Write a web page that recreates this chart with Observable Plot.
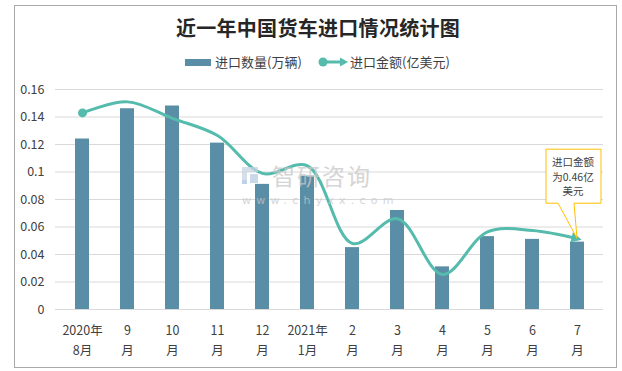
<!DOCTYPE html>
<html>
<head>
<meta charset="utf-8">
<script src="https://cdn.jsdelivr.net/npm/d3@7"></script>
<script src="https://cdn.jsdelivr.net/npm/@observablehq/plot@0.6"></script>
<style>
  html, body { margin: 0; padding: 0; background: #fff; }
  body { font-family: "Noto Sans CJK SC", "Noto Sans", sans-serif; }
  #wrap { position: relative; width: 622px; height: 371px; overflow: hidden; background: #fff; }
  #frame { position: absolute; left: 14px; top: 5px; width: 603px; height: 363px; border: 1px solid #a9a9a9; box-sizing: border-box; }
  #title { position: absolute; left: 0; width: 636px; top: 13px; text-align: center; font-size: 20px; font-weight: bold; color: #262626; letter-spacing: 0.3px; }
  .leg { position: absolute; top: 53px; font-size: 13px; color: #404040; line-height: 18px; }
  #chart { position: absolute; left: 0; top: 0; }
  #wm { position: absolute; left: 242px; top: 160px; opacity: 0.75; pointer-events: none; }
</style>
</head>
<body>
<div id="wrap">
  <div id="chart"></div>
  <div id="frame"></div>
  <div id="title">近一年中国货车进口情况统计图</div>
  <div class="leg" style="left:185px;"><span style="display:inline-block;width:26px;height:7px;background:#5a8da6;vertical-align:middle;margin-right:4px;position:relative;top:-1px;"></span>进口数量(万辆)</div>
  <div class="leg" style="left:318px;"><svg width="32" height="12" style="vertical-align:middle;position:relative;top:-1px;"><line x1="5" y1="6" x2="25" y2="6" stroke="#55bbad" stroke-width="3"/><circle cx="5" cy="6" r="4.5" fill="#55bbad"/><path d="M22,1.5L30,6L22,10.5Z" fill="#55bbad"/></svg>进口金额(亿美元)</div>
  <div id="wm">
    <svg width="175" height="50" style="position:absolute;left:0;top:0;overflow:visible;">
      <rect x="0" y="7" width="16" height="5" fill="#c9d3e3"/>
      <rect x="0" y="7" width="5" height="16" fill="#c9d3e3"/>
      <rect x="8" y="14" width="8" height="9" fill="#b9cde3"/>
      <rect x="0" y="20" width="5" height="4" fill="#a9c2e0"/>
      <text x="30" y="25" font-size="23" fill="#c8c8c8" font-family="Noto Sans CJK SC" letter-spacing="2">智研咨询</text>
      <text x="0" y="44" font-size="11" fill="#c8c8c8" font-family="DejaVu Sans" letter-spacing="5.2">www.chyxx.com</text>
    </svg>
  </div>
</div>
<script>
// Categories (x tick labels)
const months = ["2020年\n8月", "9\n月", "10\n月", "11\n月", "12\n月", "2021年\n1月", "2\n月", "3\n月", "4\n月", "5\n月", "6\n月", "7\n月"];
// 进口数量(万辆)
const quantity = [0.124, 0.146, 0.148, 0.121, 0.091, 0.097, 0.045, 0.072, 0.031, 0.053, 0.051, 0.049];
// 进口金额 line, as drawn against the primary axis
const amount = [0.143, 0.151, 0.139, 0.1265, 0.099, 0.1045, 0.048, 0.066, 0.0255, 0.0565, 0.0575, 0.0515];
// y ticks
const yTicks = [0, 0.02, 0.04, 0.06, 0.08, 0.1, 0.12, 0.14, 0.16];
// callout text
const calloutLines = ["进口金额", "为0.46亿", "美元"];

const barData = months.map((m, i) => ({month: m, value: quantity[i]}));
const lineData = months.map((m, i) => ({month: m, value: amount[i]}));

const BAR = "#5a8da6", LINE = "#55bbad";

const plot = Plot.plot({
  width: 622,
  height: 371,
  marginTop: 89,
  marginBottom: 62,
  marginLeft: 55,
  marginRight: 19,
  style: {fontFamily: '"Noto Sans CJK SC", "Noto Sans", sans-serif', fontSize: "12px", color: "#404040", background: "transparent"},
  x: {domain: months, paddingInner: 0.69, paddingOuter: 0.345, align: 0.5},
  y: {domain: [0, 0.16]},
  marks: [
    Plot.gridY(yTicks, {stroke: "#d9d9d9", strokeOpacity: 1, strokeWidth: 1}),
    Plot.axisY(yTicks, {tickSize: 0, tickPadding: 11, tickFormat: d => String(+d.toFixed(2)), fontSize: 12.5, fill: "#404040", label: null}),
    Plot.axisX({tickSize: 0, tickPadding: 11, lineHeight: 1.6, fontSize: 12.5, fill: "#404040", label: null}),
    Plot.barY(barData, {x: "month", y: "value", fill: BAR}),
    Plot.line(lineData, {x: "month", y: "value", stroke: LINE, strokeWidth: 3, curve: "catmull-rom", markerEnd: "arrow"}),
    Plot.dot(lineData.slice(0, 1), {x: "month", y: "value", r: 4.5, fill: LINE}),
  ]
});

// Turn the arrow marker into a filled triangle
d3.select(plot).selectAll("marker").attr("fill", LINE).attr("stroke", "none")
  .selectAll("path").attr("d", "M-3,-2.6L2.2,0L-3,2.6Z");

// Callout anchored to last line point
const xs = plot.scale("x"), ys = plot.scale("y");
const last = lineData[lineData.length - 1];
const tx = xs.apply(last.month) + xs.bandwidth / 2;
const ty = ys.apply(last.value);
const svg = d3.select(plot);
const L = tx - 31, R = tx + 24, T = ty - 89, B = ty - 35;
svg.append("path")
  .attr("d", `M${L},${T}H${R}V${B}H${tx - 3}L${tx},${ty}L${tx - 19},${B}H${L}Z`)
  .attr("fill", "#fff").attr("stroke", "#ffc000").attr("stroke-width", 1);
calloutLines.forEach((s, i) => {
  svg.append("text").attr("text-anchor", "middle").attr("font-size", 10.5).attr("fill", "#404040")
    .attr("font-family", '"Noto Sans CJK SC", sans-serif')
    .attr("x", tx - 4).attr("y", ty - 72 + i * 14.5).text(s);
});

document.getElementById("chart").appendChild(plot);
</script>
</body>
</html>
